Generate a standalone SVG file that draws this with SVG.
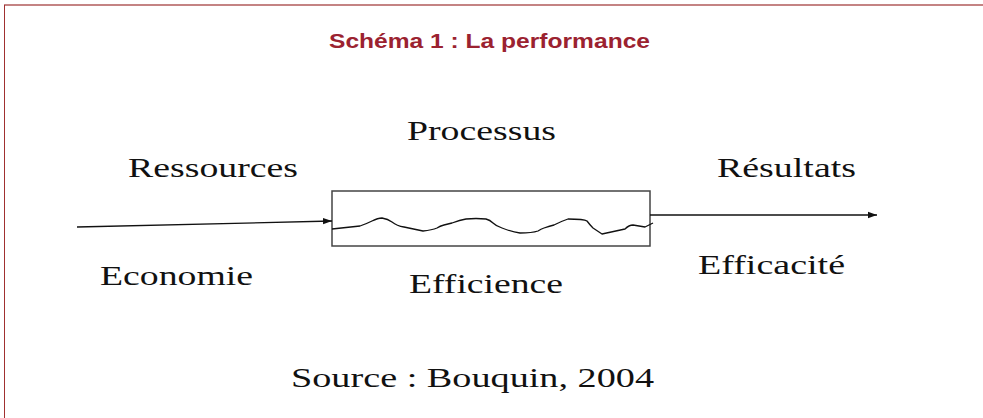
<svg xmlns="http://www.w3.org/2000/svg" width="983" height="418" viewBox="0 0 983 418">
<defs>
<style>
.t{font-family:"Liberation Serif","Times New Roman",serif;font-size:28px;fill:#111}
.title{font-family:"Liberation Sans",Arial,sans-serif;font-size:21px;font-weight:bold;fill:#9b2230}
.c{stroke:#111;stroke-width:1.3;fill:none}
</style>
<marker id="ah2" viewBox="0 0 10 10" refX="10" refY="5" markerWidth="9" markerHeight="9" orient="auto" markerUnits="userSpaceOnUse">
<path d="M0,1.5 L10,5 L0,8.5 Z" fill="#111"/>
</marker>
</defs>
<rect width="983" height="418" fill="#fff"/>
<g id="frame">
<line x1="4" y1="5" x2="983" y2="5" stroke="#b05a5a" stroke-width="1.5"/>
<line x1="4.5" y1="5" x2="4.5" y2="418" stroke="#a03030" stroke-width="1"/>
</g>
<text class="title" x="329" y="48" textLength="321" lengthAdjust="spacingAndGlyphs">Schéma 1 : La performance</text>
<g id="processus">
<rect x="332" y="191" width="318" height="55" fill="none" stroke="#444" stroke-width="1.5"/>
<path class="c" stroke-width="1" stroke-linejoin="round" d="M332,229 L360,226 Q366,224 372,221 Q378,218 382,218 Q388,219 392,222 Q397,226 404,227 L423,231 Q432,230 437,228 Q440,226 444,225 Q448,224 452,223 Q460,220 466,219 Q476,218 486,219 Q490,220 493,223 Q496,226 502,228 Q512,232 520,233 Q532,233 538,231 Q541,229 544,228 Q550,226 554,225 Q562,221 568,219 Q584,219 587,221 Q590,225 593,228 L602,234 L625,229 Q629,225 633,225 L645,227 L653,223"/>
<text class="t" x="407" y="140" textLength="149" lengthAdjust="spacingAndGlyphs">Processus</text>
<text class="t" x="409" y="293" textLength="154" lengthAdjust="spacingAndGlyphs">Efficience</text>
</g>
<g id="ressources">
<text class="t" x="128" y="177" textLength="170" lengthAdjust="spacingAndGlyphs">Ressources</text>
<text class="t" x="100" y="285" textLength="153" lengthAdjust="spacingAndGlyphs">Economie</text>
</g>
<g id="resultats">
<text class="t" x="717" y="177" textLength="139" lengthAdjust="spacingAndGlyphs">Résultats</text>
<text class="t" x="698" y="274" textLength="147" lengthAdjust="spacingAndGlyphs">Efficacité</text>
</g>
<g id="connectors">
<line class="c" x1="77" y1="227" x2="332" y2="221" marker-end="url(#ah2)"/>
<line class="c" x1="650" y1="215" x2="877" y2="215" marker-end="url(#ah2)"/>
</g>
<text class="t" x="291" y="387" textLength="363" lengthAdjust="spacingAndGlyphs">Source : Bouquin, 2004</text>
</svg>
